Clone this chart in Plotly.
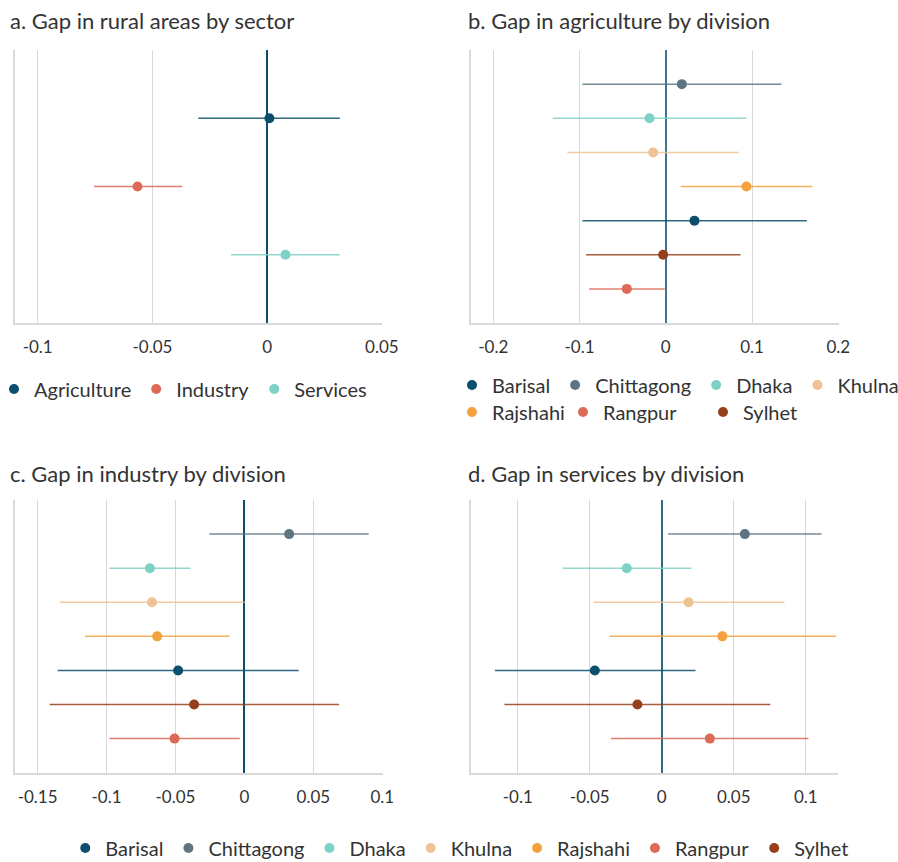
import plotly.graph_objects as go

# ---- data ---------------------------------------------------------------
sectors = ["Agriculture", "Industry", "Services"]
sector_est = [0.001, -0.0565, 0.008]
sector_lo = [-0.030, -0.0755, -0.0157]
sector_hi = [0.0317, -0.037, 0.0316]

divisions = ["Barisal", "Chittagong", "Dhaka", "Khulna", "Rajshahi", "Rangpur", "Sylhet"]
row_order = ["Chittagong", "Dhaka", "Khulna", "Rajshahi", "Barisal", "Sylhet", "Rangpur"]

agri_est = [0.0332, 0.0186, -0.0189, -0.0147, 0.0935, -0.0452, -0.0031]
agri_lo = [-0.0966, -0.0966, -0.131, -0.114, 0.0174, -0.0889, -0.0924]
agri_hi = [0.1635, 0.134, 0.0935, 0.0847, 0.170, -0.0012, 0.0866]

ind_est = [-0.0481, 0.0324, -0.0686, -0.0671, -0.0633, -0.0507, -0.0365]
ind_lo = [-0.1355, -0.0254, -0.098, -0.134, -0.1157, -0.098, -0.1413]
ind_hi = [0.0394, 0.0901, -0.0391, 0.0, -0.0109, -0.0034, 0.0686]

serv_est = [-0.0465, 0.0577, -0.0243, 0.0186, 0.0421, 0.0334, -0.0169]
serv_lo = [-0.1159, 0.0044, -0.0689, -0.0474, -0.0362, -0.0353, -0.1093]
serv_hi = [0.0234, 0.111, 0.0206, 0.0852, 0.121, 0.1019, 0.0754]

titles = ["a. Gap in rural areas by sector", "b. Gap in agriculture by division",
          "c. Gap in industry by division", "d. Gap in services by division"]

ticks_a = [-0.1, -0.05, 0, 0.05]
labels_a = ["-0.1", "-0.05", "0", "0.05"]
ticks_b = [-0.2, -0.1, 0, 0.1, 0.2]
labels_b = ["-0.2", "-0.1", "0", "0.1", "0.2"]
ticks_c = [-0.15, -0.1, -0.05, 0, 0.05, 0.1]
labels_c = ["-0.15", "-0.1", "-0.05", "0", "0.05", "0.1"]
ticks_d = [-0.1, -0.05, 0, 0.05, 0.1]
labels_d = ["-0.1", "-0.05", "0", "0.05", "0.1"]

# ---- styling ------------------------------------------------------------
div_colors = {
    "Barisal": "#0b4f6c",
    "Chittagong": "#5f7482",
    "Dhaka": "#7fd1c5",
    "Khulna": "#efc293",
    "Rajshahi": "#f3a23e",
    "Rangpur": "#dc6a57",
    "Sylhet": "#96401b",
}
sector_colors = {"Agriculture": "#0b4f6c", "Industry": "#dc6a57", "Services": "#7fd1c5"}

# panel b legend is laid out in two rows: the second row sits under the first columns
legend_b = {
    "Barisal": "legend2", "Chittagong": "legend2", "Dhaka": "legend2", "Khulna": "legend2",
    "Rajshahi": "legend4", "Rangpur": "legend5", "Sylhet": "legend6",
}

FONT = "Lato, 'Open Sans', sans-serif"
TEXT = "#333333"
GRID = "#d9d9d9"
W, H = 898, 862


def rgba(hex_color, a):
    h = hex_color.lstrip("#")
    r, g, b = int(h[0:2], 16), int(h[2:4], 16), int(h[4:6], 16)
    return f"rgba({r},{g},{b},{a})"


fig = go.Figure()


def add_panel(names, est, lo, hi, colors, xa, ya, legend, showlegend):
    for n, e, l, h in zip(names, est, lo, hi):
        c = colors[n]
        leg = legend[n] if isinstance(legend, dict) else legend
        fig.add_trace(go.Scatter(
            x=[e], y=[n], mode="markers", name=n,
            marker=dict(color=c, size=10),
            error_x=dict(type="data", symmetric=False, array=[h - e], arrayminus=[e - l],
                         color=rgba(c, 0.85), thickness=1.5, width=0),
            xaxis=xa, yaxis=ya, legend=leg, showlegend=showlegend,
        ))


add_panel(sectors, sector_est, sector_lo, sector_hi, sector_colors, "x", "y", "legend", True)
add_panel(divisions, agri_est, agri_lo, agri_hi, div_colors, "x2", "y2", legend_b, True)
add_panel(divisions, ind_est, ind_lo, ind_hi, div_colors, "x3", "y3", "legend3", True)
add_panel(divisions, serv_est, serv_lo, serv_hi, div_colors, "x4", "y4", "legend3", False)


def px_x(a, b):
    return [a / W, b / W]


def px_y(top, bottom):
    return [1 - bottom / H, 1 - top / H]


def xaxis(domain, rng, tv, tt, anchor, zc):
    return dict(domain=domain, range=rng, tickvals=tv, ticktext=tt, anchor=anchor,
                showgrid=True, gridcolor=GRID, gridwidth=1,
                zeroline=True, zerolinecolor=zc, zerolinewidth=1.5,
                showline=True, linecolor=GRID, linewidth=1.5, ticks="",
                tickfont=dict(size=17, color=TEXT, family=FONT), ticklabelstandoff=8,
                fixedrange=True)


def yaxis(domain, cats, anchor):
    return dict(domain=domain, type="category", categoryorder="array", categoryarray=cats,
                range=[len(cats), -1], showticklabels=False, showgrid=False, zeroline=False,
                showline=True, linecolor=GRID, linewidth=1.5, ticks="", anchor=anchor,
                fixedrange=True)


top_row = px_y(50, 323)
bot_row = px_y(500, 772.7)


def legend_style(x_px, y_px, xanchor="left"):
    x = x_px / W if xanchor == "left" else x_px
    return dict(orientation="h", x=x, xanchor=xanchor, y=1 - y_px / H, yanchor="middle",
                font=dict(size=20, color=TEXT, family=FONT), bgcolor="rgba(0,0,0,0)",
                itemwidth=30, tracegroupgap=0)


fig.update_layout(
    width=W, height=H,
    margin=dict(l=0, r=0, t=0, b=0, autoexpand=False),
    paper_bgcolor="white", plot_bgcolor="white",
    font=dict(family=FONT, color=TEXT, size=17),
    xaxis=xaxis(px_x(15, 382.3), [-0.1099, 0.0502], ticks_a, labels_a, "y", "#0b4f6c"),
    yaxis=yaxis(top_row, sectors, "x"),
    xaxis2=xaxis(px_x(471, 838.6), [-0.2258, 0.2003], ticks_b, labels_b, "y2", "#3f7594"),
    yaxis2=yaxis(top_row, row_order, "x2"),
    xaxis3=xaxis(px_x(15.3, 382.6), [-0.1662, 0.1002], ticks_c, labels_c, "y3", "#0b4f6c"),
    yaxis3=yaxis(bot_row, row_order, "x3"),
    xaxis4=xaxis(px_x(471, 837.7), [-0.1325, 0.1222], ticks_d, labels_d, "y4", "#2f6788"),
    yaxis4=yaxis(bot_row, row_order, "x4"),
    legend=legend_style(-6, 389),
    legend2=legend_style(452, 385),
    legend4=legend_style(452, 412),
    legend5=legend_style(563, 412),
    legend6=legend_style(703, 412),
    legend3=legend_style(0.512, 848, "center"),
    showlegend=True,
)

title_pos = [(8, 20), (466, 20), (8, 473), (466, 473)]
for t, (x, y) in zip(titles, title_pos):
    fig.add_annotation(text=t, x=x / W, y=1 - y / H, xref="paper", yref="paper",
                       xanchor="left", yanchor="middle", showarrow=False,
                       font=dict(size=22, color=TEXT, family=FONT))

fig.write_html("out.html")
